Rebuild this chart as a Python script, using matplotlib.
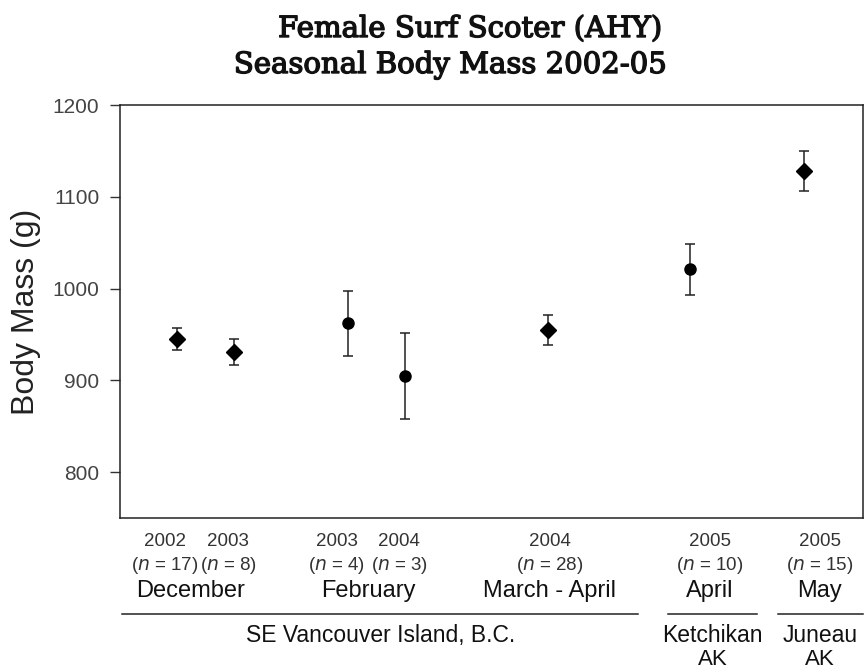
import matplotlib
matplotlib.use("Agg")
import matplotlib.pyplot as plt
import matplotlib.patheffects as pe
from matplotlib.transforms import blended_transform_factory
from matplotlib.lines import Line2D

# ---- data ----
years = ["2002", "2003", "2003", "2004", "2004", "2005", "2005"]
n_labels = ["17", "8", "4", "3", "28", "10", "15"]
means = [945, 931, 962, 905, 955, 1021, 1128]
errors = [12, 14, 35, 47, 16.5, 28, 21.5]
markers = ["D", "D", "o", "o", "D", "o", "D"]
months = ["December", "February", "March - April", "April", "May"]
locations = ["SE Vancouver Island, B.C.", "Ketchikan", "Juneau"]
location_sub = ["", "AK", "AK"]
yticks = [800, 900, 1000, 1100, 1200]

# ---- layout (positions only) ----
xpos = [1, 2, 4, 5, 7.5, 10, 12]
label_x = [0.79, 1.9, 3.8, 4.9, 7.54, 10.35, 12.28]
month_x = [1.23, 4.35, 7.54, 10.35, 12.28]
loc_x = [4.58, 10.4, 12.28]
loc_lines = [(0.035, 9.09), (9.61, 11.18), (11.54, 13.03)]

plt.rcParams['font.family'] = ['Liberation Sans', 'DejaVu Sans']

fig = plt.figure(figsize=(8.66, 6.7), dpi=100)
ax = fig.add_axes([120/866, 1-518/670, 743/866, 413/670])

for x, m, e, mk in zip(xpos, means, errors, markers):
    ax.errorbar([x], [m], yerr=[e], fmt=mk, color="black", ecolor="#222222",
                elinewidth=1.1, capsize=3.6, capthick=1.1,
                markersize=8 if mk == "D" else 8)

ax.set_xlim(0, 13.035)
ax.set_ylim(750, 1200)
ax.set_yticks(yticks)
ax.set_yticklabels([str(t) for t in yticks], fontsize=15, color="#444444")
ax.set_xticks([])
ax.tick_params(axis="y", direction="out", length=7, width=1, color="#333333", pad=8)
for s in ax.spines.values():
    s.set_color("#222222")
    s.set_linewidth(1.1)
ax.set_ylabel("Body Mass (g)", fontsize=23, color="#222222", labelpad=8)

trans = blended_transform_factory(ax.transData, fig.transFigure)
for x, yr, n in zip(label_x, years, n_labels):
    ax.text(x, 1-542/670, yr, transform=trans, ha="center", va="center",
            fontsize=13.5, color="#333333")
    ax.text(x, 1-565/670, r"($\it{n}$ = " + n + ")", transform=trans,
            ha="center", va="center", fontsize=13.5, color="#333333")
for x, mo in zip(month_x, months):
    ax.text(x, 1-597/670, mo, transform=trans, ha="center", va="baseline",
            fontsize=17, color="#111111")
for (x0, x1) in loc_lines:
    ax.add_line(Line2D([x0, x1], [1-614/670, 1-614/670], transform=trans,
                       color="#222222", linewidth=1.1, clip_on=False))
for x, lo, sub in zip(loc_x, locations, location_sub):
    ax.text(x, 1-642/670, lo, transform=trans, ha="center", va="baseline",
            fontsize=16.5, color="#111111")
    if sub:
        ax.text(x, 1-665/670, sub, transform=trans, ha="center", va="baseline",
                fontsize=16, color="#111111")

stroke = [pe.withStroke(linewidth=1.0, foreground="#111111")]
fig.text(470/866, 1-37/670, "Female Surf Scoter (AHY)", ha="center", va="baseline",
         fontsize=21, family=["DejaVu Serif"], color="#111111", path_effects=stroke)
fig.text(450/866, 1-73/670, "Seasonal Body Mass 2002-05", ha="center", va="baseline",
         fontsize=21, family=["DejaVu Serif"], color="#111111", path_effects=stroke)

fig.savefig("out.png", dpi=100)
